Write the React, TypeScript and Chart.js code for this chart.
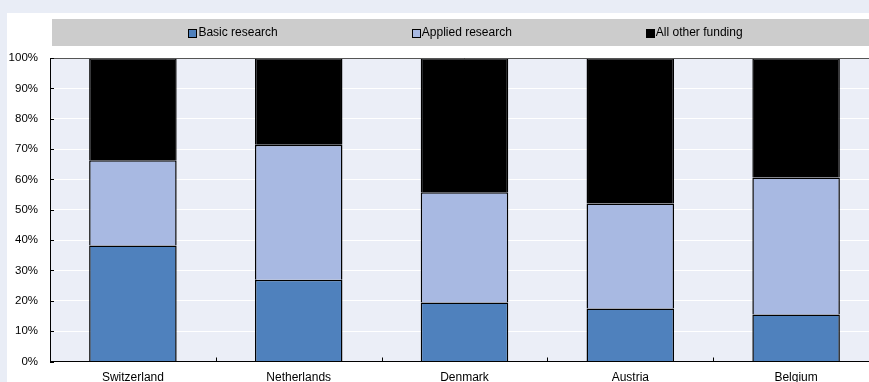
import React, { useEffect, useRef } from "react";
import { Chart, registerables } from "chart.js";

Chart.register(...registerables);

const categories = ["Switzerland", "Netherlands", "Denmark", "Austria", "Belgium"];
const basicResearch = [38.2, 26.9, 19.4, 17.5, 15.5];
const appliedResearch = [28.1, 44.5, 36.4, 34.6, 45.1];
const allOtherFunding = [33.7, 28.6, 44.2, 47.9, 39.4];
const seriesLabels = ["Basic research", "Applied research", "All other funding"];
const seriesColors = ["#4f81bd", "#a8b9e2", "#000000"];
const yTickValues = [0, 10, 20, 30, 40, 50, 60, 70, 80, 90, 100];

const FONT = "'Liberation Sans', Arial, sans-serif";

const framePlugin = {
  id: "oecdFrame",
  beforeDraw(chart: any) {
    const { ctx, chartArea } = chart;
    ctx.save();
    // plot background
    ctx.fillStyle = "#ebeef7";
    ctx.fillRect(chartArea.left, chartArea.top, chartArea.right - chartArea.left, chartArea.bottom - chartArea.top);
    // legend band
    ctx.fillStyle = "#cccccc";
    ctx.fillRect(52, 19, chart.width - 52, 27);
    // legend items
    ctx.font = "12px " + FONT;
    ctx.textBaseline = "middle";
    ctx.textAlign = "left";
    const gap = 134;
    const box = 8;
    const datasets = chart.data.datasets;
    const widths = datasets.map((d: any) => box + 2 + ctx.measureText(d.label).width);
    const total = widths.reduce((a: number, b: number) => a + b, 0) + gap * (datasets.length - 1);
    let x = (chartArea.left + chartArea.right) / 2 + 1 - total / 2;
    const cy = 33;
    datasets.forEach((d: any, i: number) => {
      const bx = Math.round(x) + 0.5;
      ctx.fillStyle = d.backgroundColor;
      ctx.fillRect(bx, cy - 4 + 0.5, box, box);
      ctx.strokeStyle = "#000";
      ctx.lineWidth = 1;
      ctx.strokeRect(bx, cy - 4 + 0.5, box, box);
      ctx.fillStyle = "#000";
      ctx.fillText(d.label, x + box + 2, cy);
      x += widths[i] + gap;
    });
    ctx.restore();
  },
  afterDatasetsDraw(chart: any) {
    const { ctx, chartArea, scales } = chart;
    ctx.save();
    ctx.lineWidth = 1;
    // top frame line
    ctx.strokeStyle = "#555";
    ctx.beginPath();
    ctx.moveTo(chartArea.left, Math.round(chartArea.top) + 0.5);
    ctx.lineTo(chartArea.right, Math.round(chartArea.top) + 0.5);
    ctx.stroke();
    // y inward ticks
    ctx.strokeStyle = "#000";
    yTickValues.forEach((v) => {
      const y = Math.round(scales.y.getPixelForValue(v)) + 0.5;
      ctx.beginPath();
      ctx.moveTo(chartArea.left, y);
      ctx.lineTo(chartArea.left + 4, y);
      ctx.stroke();
    });
    // x boundary ticks
    for (let i = 0; i < categories.length - 1; i++) {
      const x = Math.round((scales.x.getPixelForValue(i) + scales.x.getPixelForValue(i + 1)) / 2) + 0.5;
      ctx.beginPath();
      ctx.moveTo(x, chartArea.bottom);
      ctx.lineTo(x, chartArea.bottom - 4);
      ctx.stroke();
    }
    ctx.restore();
  },
};

export default function App() {
  const ref = useRef<HTMLCanvasElement | null>(null);

  useEffect(() => {
    if (!ref.current) return;
    const series = [basicResearch, appliedResearch, allOtherFunding];
    const chart = new Chart(ref.current, {
      type: "bar",
      data: {
        labels: categories,
        datasets: series.map((data, i) => ({
          label: seriesLabels[i],
          data,
          backgroundColor: seriesColors[i],
          borderColor: "#000",
          borderWidth: 1.5,
          borderSkipped: "start",
          barPercentage: 0.528,
          categoryPercentage: 1,
        })),
      },
      options: {
        animation: false,
        responsive: false,
        maintainAspectRatio: false,
        layout: { padding: { top: 58, right: 21, left: 0, bottom: 0 } },
        plugins: { legend: { display: false }, tooltip: { enabled: false } },
        scales: {
          x: {
            stacked: true,
            grid: { display: false, drawTicks: false },
            border: { display: true, color: "#000", width: 1 },
            ticks: { padding: 9, color: "#000", font: { family: FONT, size: 12 }, maxRotation: 0 },
            afterFit: (s: any) => {
              s.height = 20.5;
            },
          },
          y: {
            stacked: true,
            min: 0,
            max: 100,
            afterBuildTicks: (s: any) => {
              s.ticks = yTickValues.map((v) => ({ value: v }));
            },
            ticks: {
              color: "#000",
              padding: 12,
              font: { family: FONT, size: 11.5 },
              callback: (v: any) => v + "%",
            },
            grid: { color: "#ffffff", lineWidth: 1, drawTicks: false },
            border: { display: true, color: "#000", width: 1 },
            afterFit: (s: any) => {
              s.width = 50;
            },
          },
        },
      },
      plugins: [framePlugin],
    });
    return () => chart.destroy();
  }, []);

  return (
    <div
      style={{
        position: "fixed",
        left: 0,
        top: 0,
        width: 869,
        height: 382,
        overflow: "hidden",
        background: "#e9edf6",
      }}
    >
      <div style={{ position: "absolute", left: 7, top: 13, width: 900, height: 400, background: "#ffffff" }} />
      <canvas ref={ref} width={900} height={382} style={{ position: "absolute", left: 0, top: 0, width: 900, height: 382 }} />
    </div>
  );
}
